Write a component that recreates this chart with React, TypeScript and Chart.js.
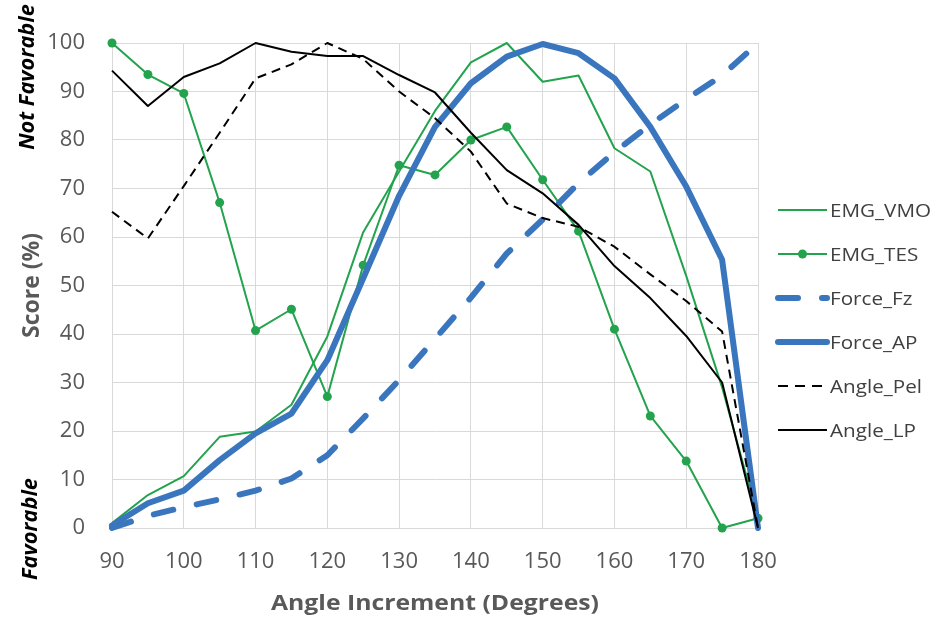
import React, { useEffect, useRef } from 'react';
import { Chart, registerables } from 'chart.js';

Chart.register(...registerables);

// ---- data ----
const angles = [90, 95, 100, 105, 110, 115, 120, 125, 130, 135, 140, 145, 150, 155, 160, 165, 170, 175, 180];
const emgVMO = [1, 6.8, 10.7, 18.8, 19.9, 25.4, 39.5, 61, 73.5, 86, 96, 100, 92, 93.3, 78.3, 73.5, 52, 29, 2];
const emgTES = [100, 93.5, 89.6, 67.1, 40.7, 45.1, 27.1, 54.2, 74.8, 72.8, 80, 82.7, 71.8, 61.2, 41, 23.1, 13.8, 0, 2];
const forceFz = [0, 2.5, 4.3, 5.9, 7.7, 10.2, 15, 22.6, 30.5, 39, 47.5, 56.6, 63.6, 71.1, 77.5, 83.2, 88.4, 93.3, 100];
const forceAP = [0.5, 5.1, 7.7, 14, 19.5, 23.6, 34.6, 51.5, 68.5, 82.7, 91.7, 97.2, 99.8, 97.9, 92.7, 82.7, 70.4, 55.3, 0];
const anglePel = [65.2, 59.7, 70.5, 81.5, 92.7, 95.6, 100, 96.7, 90, 84.5, 77.6, 66.9, 63.9, 62.1, 58, 52.3, 46.8, 40.5, 0];
const angleLP = [94.3, 87, 93, 95.8, 100, 98.2, 97.3, 97.3, 93.4, 89.8, 81.5, 73.8, 69, 62.5, 54, 47.4, 39.6, 30, 0];

const seriesLabels = ['EMG_VMO', 'EMG_TES', 'Force_Fz', 'Force_AP', 'Angle_Pel', 'Angle_LP'];
const xTitle = 'Angle Increment (Degrees)';
const yTitle = 'Score (%)';
const topNote = 'Not Favorable';
const bottomNote = 'Favorable';

const GREEN = '#23a34d';
const BLUE = '#3a76bd';
const BLACK = '#000000';
const GRAY_TEXT = '#595959';
const GRID = '#d9d9d9';
const FONT = "'Open Sans', sans-serif";

const toXY = (vals: number[]) => angles.map((a, i) => ({ x: a, y: vals[i] }));

function drawText(
  ctx: CanvasRenderingContext2D,
  text: string,
  x: number,
  y: number,
  font: string,
  color: string,
  opts: { width?: number; sx?: number; rot?: number; align?: CanvasTextAlign } = {}
) {
  ctx.save();
  ctx.translate(x, y);
  if (opts.rot) ctx.rotate(opts.rot);
  ctx.font = font;
  const w = ctx.measureText(text).width;
  const sx = opts.sx ?? (opts.width ? opts.width / w : 1);
  ctx.scale(sx, 1);
  ctx.textAlign = opts.align ?? 'center';
  ctx.textBaseline = 'alphabetic';
  ctx.fillStyle = color;
  ctx.fillText(text, 0, 0);
  ctx.restore();
}

const overlayPlugin = {
  id: 'overlay',
  afterDraw(chart: any) {
    const ctx: CanvasRenderingContext2D = chart.ctx;
    const area = chart.chartArea;
    // axis titles
    drawText(ctx, xTitle, (area.left + area.right) / 2, 610, `bold 22px ${FONT}`, GRAY_TEXT, { width: 328 });
    drawText(ctx, yTitle, 39, (area.top + area.bottom) / 2, `bold 24px ${FONT}`, GRAY_TEXT, { width: 105, rot: -Math.PI / 2 });
    // favorable notes
    ctx.save();
    ctx.font = `italic bold 21px ${FONT}`;
    const favSx = 102 / ctx.measureText(bottomNote).width;
    ctx.restore();
    drawText(ctx, topNote, 34, 77, `italic bold 21px ${FONT}`, BLACK, { sx: favSx, rot: -Math.PI / 2 });
    drawText(ctx, bottomNote, 37, 529, `italic bold 21px ${FONT}`, BLACK, { sx: favSx, rot: -Math.PI / 2 });

    // legend
    ctx.save();
    ctx.font = `18px ${FONT}`;
    const legSx = 101 / ctx.measureText('EMG_VMO').width;
    ctx.restore();
    chart.data.datasets.forEach((ds: any, i: number) => {
      const y = 210 + 44 * i;
      const x0 = 778;
      const x1 = 827;
      ctx.save();
      ctx.strokeStyle = ds.borderColor;
      ctx.lineWidth = ds.borderWidth;
      ctx.lineCap = ds.borderCapStyle || 'butt';
      ctx.setLineDash(ds.legendDash || ds.borderDash || []);
      ctx.beginPath();
      ctx.moveTo(x0, y);
      ctx.lineTo(x1, y);
      ctx.stroke();
      if (ds.pointRadius > 0) {
        ctx.setLineDash([]);
        ctx.fillStyle = ds.pointBackgroundColor;
        ctx.beginPath();
        ctx.arc((x0 + x1) / 2, y, ds.pointRadius, 0, Math.PI * 2);
        ctx.fill();
      }
      ctx.restore();
      drawText(ctx, ds.label, 830, y + 6.5, `18px ${FONT}`, '#404040', { sx: legSx, align: 'left' });
    });
  },
};

export default function App() {
  const ref = useRef<HTMLCanvasElement | null>(null);

  useEffect(() => {
    if (!ref.current) return;
    const common = { pointRadius: 0, borderJoinStyle: 'round', tension: 0, clip: false, fill: false };
    const chart = new Chart(ref.current, {
      type: 'line',
      data: {
        datasets: [
          { ...common, label: seriesLabels[0], data: toXY(emgVMO), borderColor: GREEN, borderWidth: 2, order: 5 },
          {
            ...common,
            label: seriesLabels[1],
            data: toXY(emgTES),
            borderColor: GREEN,
            borderWidth: 2,
            pointRadius: 4.5,
            pointBorderWidth: 0,
            pointBackgroundColor: GREEN,
            pointBorderColor: GREEN,
            order: 4,
          },
          {
            ...common,
            label: seriesLabels[2],
            data: toXY(forceFz),
            borderColor: BLUE,
            borderWidth: 6,
            borderDash: [20, 24],
            borderCapStyle: 'round',
            order: 3,
          },
          { ...common, label: seriesLabels[3], data: toXY(forceAP), borderColor: BLUE, borderWidth: 6, borderCapStyle: 'round', order: 2 },
          { ...common, label: seriesLabels[4], data: toXY(anglePel), borderColor: BLACK, borderWidth: 2, borderDash: [9, 6], legendDash: [10, 7], order: 1 },
          { ...common, label: seriesLabels[5], data: toXY(angleLP), borderColor: BLACK, borderWidth: 2, order: 0 },
        ] as any,
      },
      options: {
        responsive: false,
        animation: false,
        devicePixelRatio: 1,
        layout: { padding: { top: 43, right: 178, left: 0, bottom: 0 } },
        plugins: { legend: { display: false }, tooltip: { enabled: false } },
        scales: {
          x: {
            type: 'linear',
            min: 90,
            max: 180,
            ticks: { stepSize: 10, color: GRAY_TEXT, font: { family: FONT, size: 22 }, padding: 21, maxRotation: 0, autoSkip: false },
            grid: { color: GRID, lineWidth: 1, drawTicks: false },
            border: { color: GRID },
            afterFit: (s: any) => {
              s.height = 100;
            },
          },
          y: {
            min: 0,
            max: 100,
            ticks: { stepSize: 10, color: GRAY_TEXT, font: { family: FONT, size: 22 }, padding: 27 },
            grid: { color: GRID, lineWidth: 1, drawTicks: false },
            border: { color: GRID },
            afterFit: (s: any) => {
              s.width = 112;
            },
          },
        },
      } as any,
      plugins: [overlayPlugin],
    });
    return () => chart.destroy();
  }, []);

  return (
    <div style={{ position: 'fixed', left: 0, top: 0, width: 936, height: 628, background: '#fff' }}>
      <canvas ref={ref} width={936} height={628} style={{ display: 'block' }} />
    </div>
  );
}
